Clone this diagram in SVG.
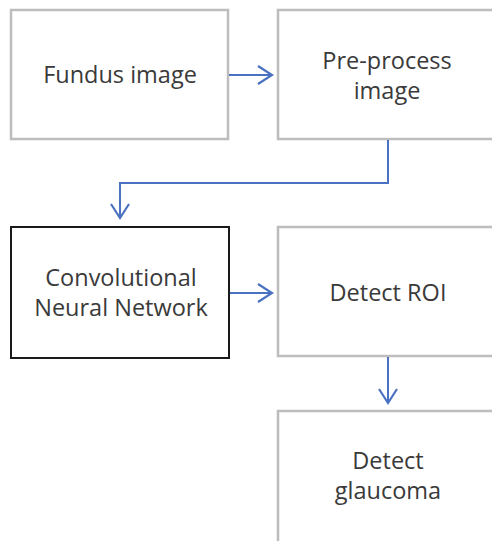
<svg xmlns="http://www.w3.org/2000/svg" width="492" height="541" viewBox="0 0 492 541">
<defs>
<style>
.box{fill:#fff;stroke:#bdbdbd;stroke-width:2.5}
.boxk{fill:#fff;stroke:#1a1a1a;stroke-width:2}
.t{font-family:"Open Sans","Liberation Sans",sans-serif;font-size:23.5px;fill:#3a3a3a;text-anchor:middle}
.c{fill:none;stroke:#4a72c0;stroke-width:2}
</style>
<marker id="ah" markerWidth="18" markerHeight="22" refX="15" refY="10" orient="auto" markerUnits="userSpaceOnUse">
<path d="M1,1 L15,10 L1,19" fill="none" stroke="#4a72c0" stroke-width="2.2"/>
</marker>
</defs>
<rect width="492" height="541" fill="#fff"/>
<g id="fundus"><rect class="box" x="11" y="10" width="217" height="129"/><text class="t" x="120" y="83">Fundus image</text></g>
<g id="preprocess"><rect class="box" x="278" y="10" width="220" height="129"/><text class="t" x="387" y="69">Pre-process</text><text class="t" x="387" y="99">image</text></g>
<g id="cnn"><rect class="boxk" x="11" y="227" width="218" height="131"/><text class="t" x="121" y="286">Convolutional</text><text class="t" x="121" y="316">Neural Network</text></g>
<g id="roi"><rect class="box" x="278" y="227" width="220" height="129"/><text class="t" x="388" y="301">Detect ROI</text></g>
<g id="glaucoma"><rect class="box" x="278" y="411" width="220" height="135"/><text class="t" x="388" y="469">Detect</text><text class="t" x="388" y="499">glaucoma</text></g>
<g id="connectors">
<path class="c" d="M229,75 H272" marker-end="url(#ah)"/>
<path class="c" d="M388,140 V183 H120 V218" marker-end="url(#ah)"/>
<path class="c" d="M230,293 H272" marker-end="url(#ah)"/>
<path class="c" d="M388,357 V403" marker-end="url(#ah)"/>
</g>
</svg>
